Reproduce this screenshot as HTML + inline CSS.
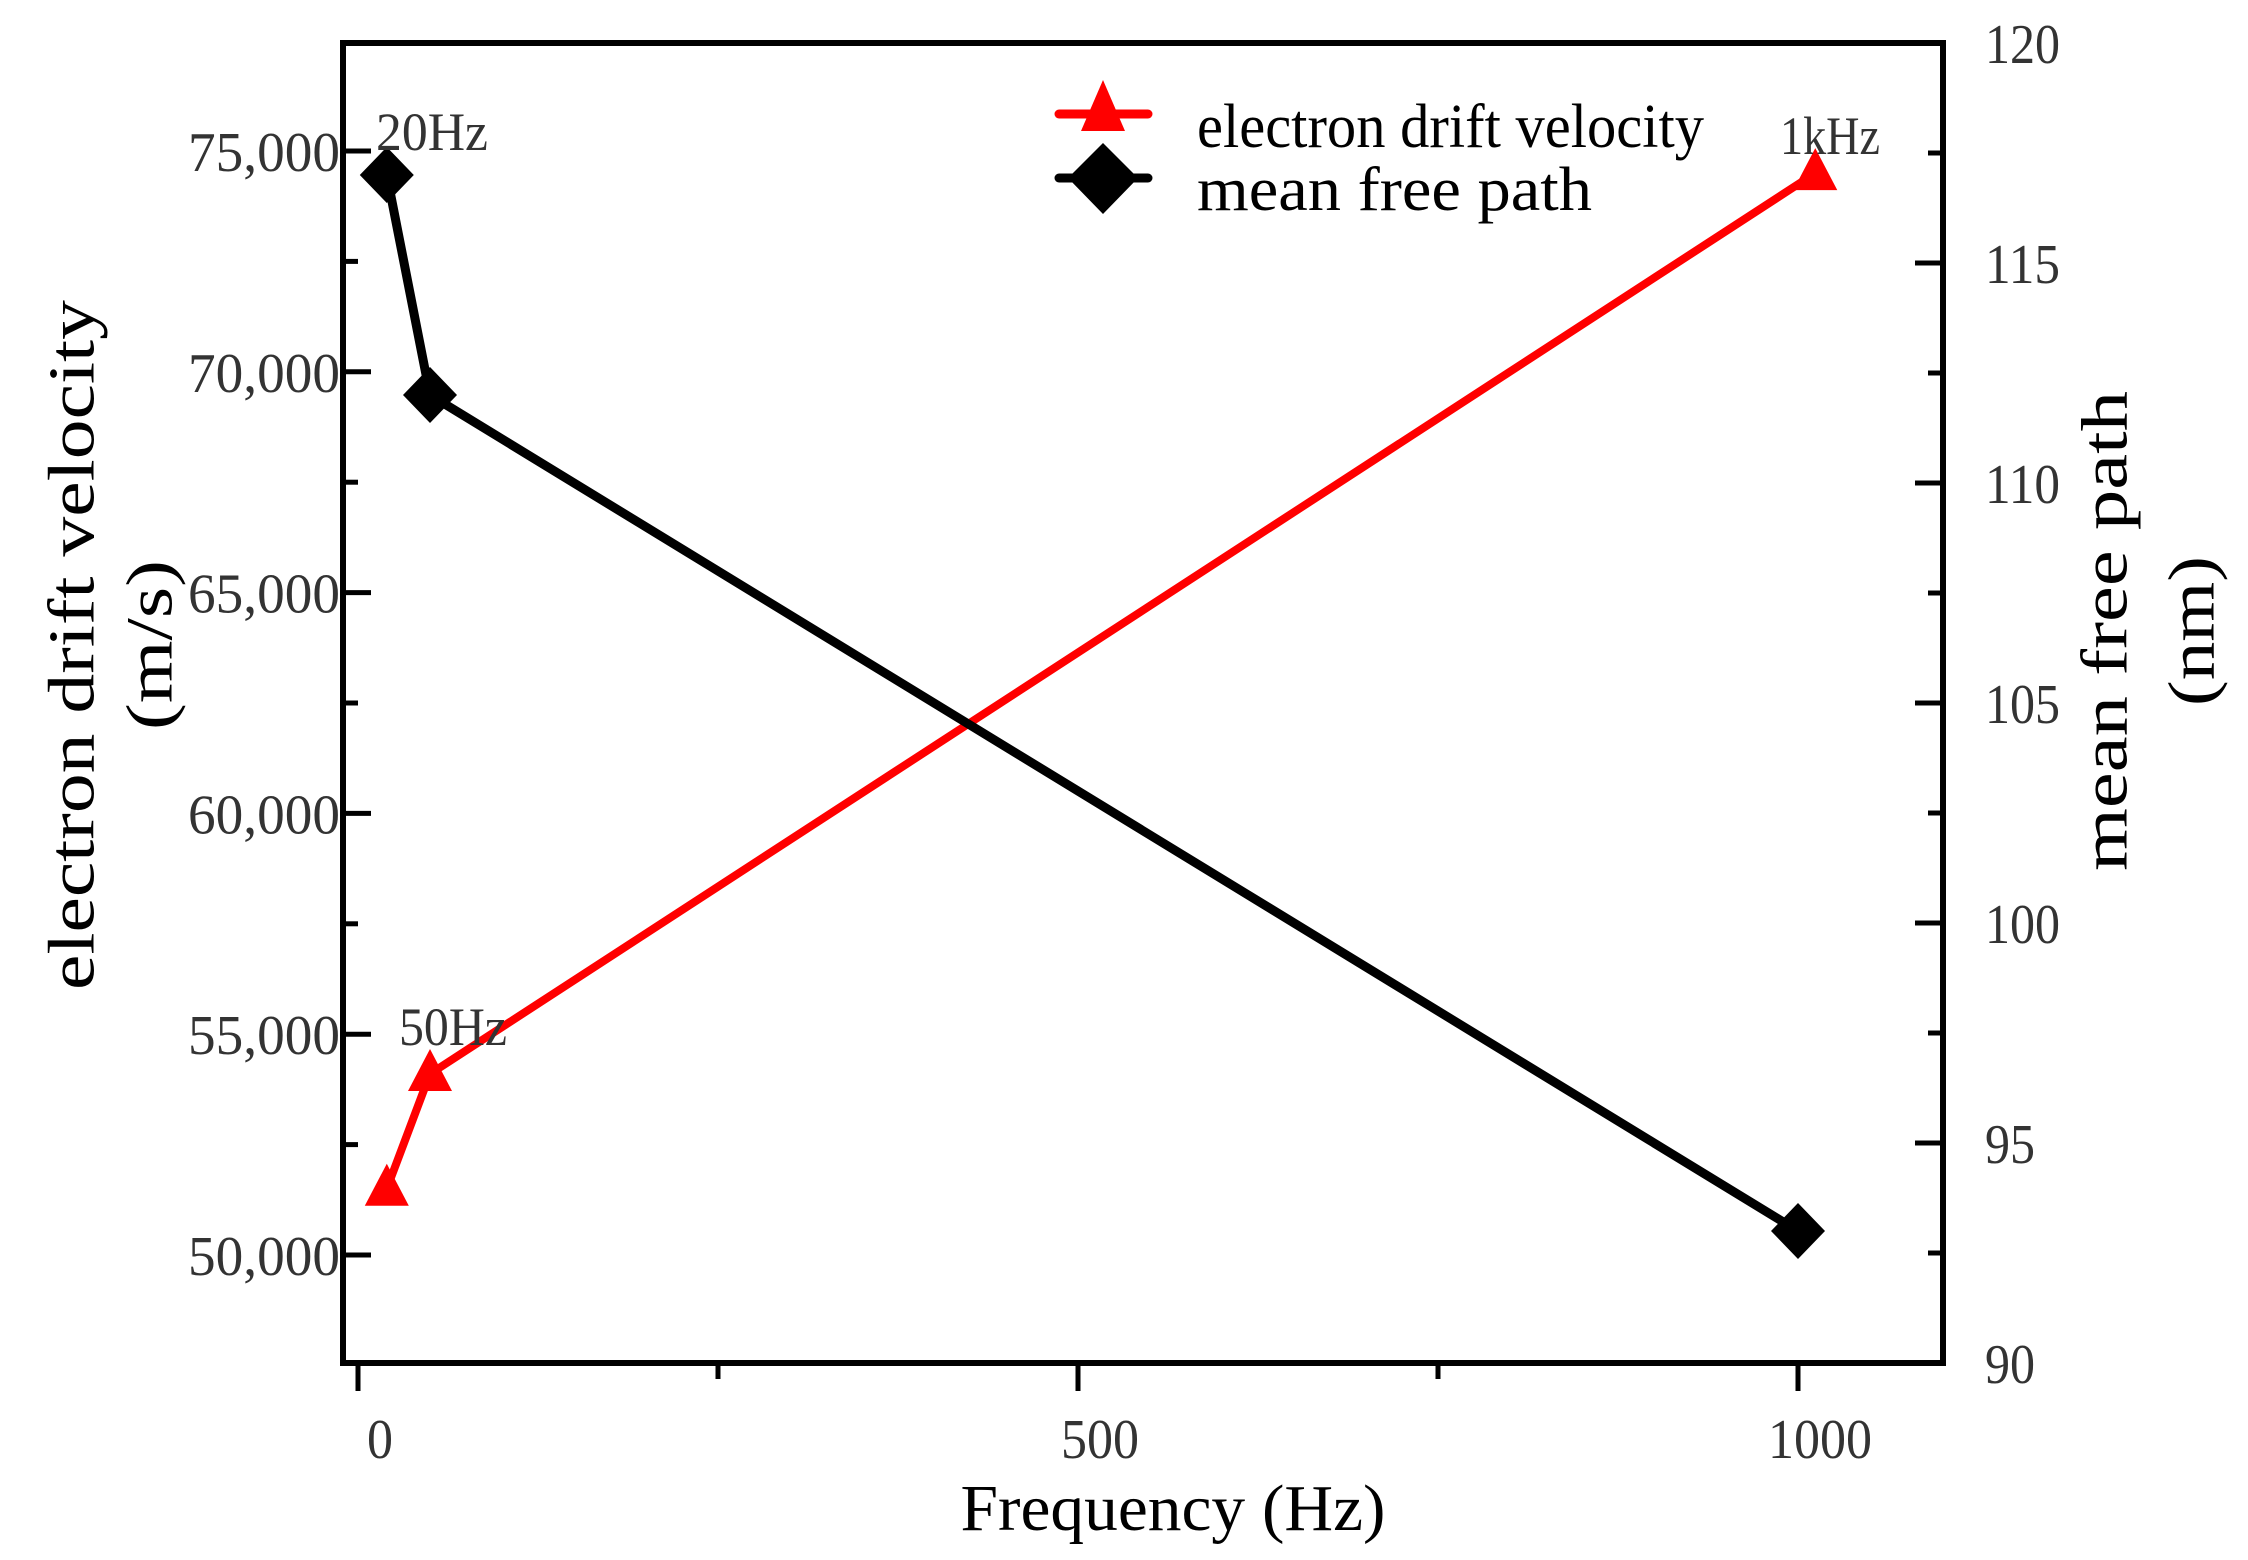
<!DOCTYPE html>
<html><head><meta charset="utf-8"><style>
html,body{margin:0;padding:0;background:#fff;}
svg{display:block;font-family:"Liberation Serif",serif;}
</style></head><body>
<svg id="chart" width="2248" height="1560" viewBox="0 0 2248 1560" xmlns="http://www.w3.org/2000/svg">
<rect x="0" y="0" width="2248" height="1560" fill="#fff"/>
<g id="grid-layer"></g>
<g id="series-layer"></g>
<rect x="343" y="43" width="1600" height="1320" fill="none" stroke="#000" stroke-width="6"/>
<g id="axis-layer"></g>
<text x="72" y="645" transform="rotate(-90 72 645)" text-anchor="middle" dominant-baseline="central" font-size="66" textLength="690" lengthAdjust="spacingAndGlyphs">electron drift velocity</text>
<text x="150" y="645" transform="rotate(-90 150 645)" text-anchor="middle" dominant-baseline="central" font-size="66" textLength="170" lengthAdjust="spacingAndGlyphs">(m/s)</text>
<text x="2105" y="631" transform="rotate(-90 2105 631)" text-anchor="middle" dominant-baseline="central" font-size="66" textLength="480" lengthAdjust="spacingAndGlyphs">mean free path</text>
<text x="2192" y="631" transform="rotate(-90 2192 631)" text-anchor="middle" dominant-baseline="central" font-size="66" textLength="150" lengthAdjust="spacingAndGlyphs">(nm)</text>
<text x="1173" y="1530" text-anchor="middle" font-size="66" textLength="425" lengthAdjust="spacingAndGlyphs">Frequency (Hz)</text>
<g>
<line x1="1059" y1="114" x2="1148" y2="114" stroke="#f00" stroke-width="9" stroke-linecap="round"/>
<polygon points="1103,80 1125,131 1081,131" fill="#f00"/>
<text x="1197" y="147" font-size="62" textLength="507" lengthAdjust="spacingAndGlyphs">electron drift velocity</text>
<line x1="1059" y1="178" x2="1148" y2="178" stroke="#000" stroke-width="9" stroke-linecap="round"/>
<polygon points="1103,143 1138,178 1103,214 1068,178" fill="#000"/>
<text x="1197" y="210" font-size="62" textLength="395" lengthAdjust="spacingAndGlyphs">mean free path</text>
</g>
<text x="376" y="150" font-size="54" fill="#333" textLength="112" lengthAdjust="spacingAndGlyphs">20Hz</text>
<text x="399" y="1045" font-size="54" fill="#333" textLength="108" lengthAdjust="spacingAndGlyphs">50Hz</text>
<text x="1780" y="154" font-size="54" fill="#333" textLength="100" lengthAdjust="spacingAndGlyphs">1kHz</text>
</svg>
<script>
const freqVel = [20, 50, 1012];
const velocity = [51500, 54100, 74500];
const freqMfp = [20, 50, 1000];
const meanFreePath = [117, 112, 93];
const xTicks = [0, 250, 500, 750, 1000];
const xTickLabels = ["0", "", "500", "", "1000"];
const leftTicks = [50000, 55000, 60000, 65000, 70000, 75000];
const leftTickLabels = ["50,000", "55,000", "60,000", "65,000", "70,000", "75,000"];
const rightTicks = [90, 95, 100, 105, 110, 115, 120];

const NS = "http://www.w3.org/2000/svg";
const PL = 343, PR = 1943, PT = 43, PB = 1363;
function xs(v){ return 358 + (v - 0) * 1.44; }
function yl(v){ return 1255 - (v - 50000) / 5000 * 220.8; }
function yr(v){ return PB - (v - 90) * 44; }
function mk(tag, attrs, parent){
  const e = document.createElementNS(NS, tag);
  for (const k in attrs) e.setAttribute(k, attrs[k]);
  parent.appendChild(e);
  return e;
}
const axis = document.getElementById("axis-layer");
const series = document.getElementById("series-layer");

xTicks.forEach((t, i) => {
  const major = xTickLabels[i] !== "";
  const tk = mk("line", {x1: xs(t), x2: xs(t), y1: PB, y2: PB + (major ? 28 : 16), stroke: "#000", "stroke-width": 5}, axis);
  
  
  if (major) {
    const w = xTickLabels[i].length * 26;
    const tx = mk("text", {x: xs(t) + 22, y: 1458, "text-anchor": "middle", "font-size": 56, fill: "#333", textLength: w, lengthAdjust: "spacingAndGlyphs"}, axis);
    tx.textContent = xTickLabels[i];
    
    
  }
});
leftTicks.forEach((t, i) => {
  const tk = mk("line", {x1: PL, x2: PL + 28, y1: yl(t), y2: yl(t), stroke: "#000", "stroke-width": 5}, axis);
  
  
  const mt = t - 2500;
  if (yl(mt) < PB) {
    const m = mk("line", {x1: PL, x2: PL + 15, y1: yl(mt), y2: yl(mt), stroke: "#000", "stroke-width": 5}, axis);
    
    
  }
  const tx = mk("text", {x: 340, y: yl(t) + 20, "text-anchor": "end", "font-size": 56, fill: "#333", textLength: 152, lengthAdjust: "spacingAndGlyphs"}, axis);
  tx.textContent = leftTickLabels[i];
  
  
});
rightTicks.forEach((t) => {
  const tk = mk("line", {x1: PR - 28, x2: PR, y1: yr(t), y2: yr(t), stroke: "#000", "stroke-width": 5}, axis);
  
  
  if (t < 120) {
    const m = mk("line", {x1: PR - 15, x2: PR, y1: yr(t + 2.5), y2: yr(t + 2.5), stroke: "#000", "stroke-width": 5}, axis);
    
    
  }
  const s = String(t);
  const tx = mk("text", {x: 1985, y: yr(t) + 20, "font-size": 56, fill: "#333", textLength: s.length * 25, lengthAdjust: "spacingAndGlyphs"}, axis);
  tx.textContent = s;
  
  
});
const vpts = freqVel.map((f, i) => xs(f) + "," + yl(velocity[i])).join(" ");
const vl = mk("polyline", {points: vpts, fill: "none", stroke: "#f00", "stroke-width": 8, "stroke-linejoin": "round"}, series);


freqVel.forEach((f, i) => {
  const x = xs(f), y = yl(velocity[i]);
  const p = mk("polygon", {points: `${x},${y-25} ${x+22},${y+17} ${x-22},${y+17}`, fill: "#f00"}, series);
  
  
});
const mpts = freqMfp.map((f, i) => xs(f) + "," + yr(meanFreePath[i])).join(" ");
const ml = mk("polyline", {points: mpts, fill: "none", stroke: "#000", "stroke-width": 9, "stroke-linejoin": "round"}, series);


freqMfp.forEach((f, i) => {
  const x = xs(f), y = yr(meanFreePath[i]);
  const p = mk("polygon", {points: `${x},${y-28} ${x+27},${y} ${x},${y+28} ${x-27},${y}`, fill: "#000"}, series);
  
  
});
</script>
</body></html>
